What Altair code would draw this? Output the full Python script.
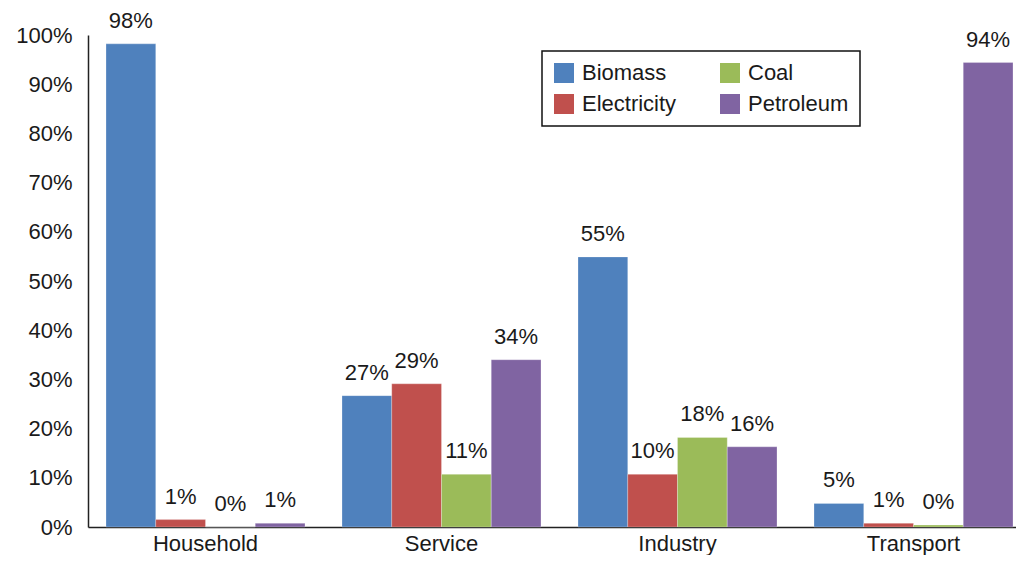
import altair as alt
import pandas as pd

sectors = ["Household", "Service", "Industry", "Transport"]
fuels = ["Biomass", "Electricity", "Coal", "Petroleum"]
colors = ["#4F81BD", "#C0504D", "#9BBB59", "#8064A2"]

biomass = [98.2, 26.7, 54.9, 4.8]
electricity = [1.5, 29.1, 10.7, 0.75]
coal = [0.0, 10.7, 18.2, 0.4]
petroleum = [0.75, 34.0, 16.3, 94.4]

biomass_lbl = ["98%", "27%", "55%", "5%"]
electricity_lbl = ["1%", "29%", "10%", "1%"]
coal_lbl = ["0%", "11%", "18%", "0%"]
petroleum_lbl = ["1%", "34%", "16%", "94%"]

y_ticks = [0, 10, 20, 30, 40, 50, 60, 70, 80, 90, 100]

rows = []
for fuel, vals, lbls in zip(
    fuels,
    [biomass, electricity, coal, petroleum],
    [biomass_lbl, electricity_lbl, coal_lbl, petroleum_lbl],
):
    for s, v, l in zip(sectors, vals, lbls):
        rows.append({"Sector": s, "Fuel": fuel, "Value": v, "Label": l})
df = pd.DataFrame(rows)

FONT = "Liberation Sans"
TXT = "#1a1a1a"

x_enc = alt.X(
    "Sector:N",
    sort=sectors,
    scale=alt.Scale(paddingInner=0.1568, paddingOuter=0.0445, align=0.857),
    axis=alt.Axis(
        title=None,
        labelAngle=0,
        ticks=False,
        labelPadding=6,
        labelFontSize=22,
        labelFont=FONT,
        labelColor=TXT,
        domainColor="#222222",
        domainWidth=1.5,
    ),
)
xoff = alt.XOffset("Fuel:N", sort=fuels, scale=alt.Scale(paddingInner=0, paddingOuter=0))
y_enc = alt.Y(
    "Value:Q",
    scale=alt.Scale(domain=[0, 100], nice=False),
    axis=alt.Axis(
        title=None,
        values=y_ticks,
        labelExpr="datum.value + '%'",
        ticks=False,
        grid=False,
        labelPadding=16,
        labelFontSize=22,
        labelFont=FONT,
        labelColor=TXT,
        domainColor="#222222",
        domainWidth=1.5,
    ),
)

bars = alt.Chart(df).mark_bar(stroke="#ffffff", strokeWidth=0.5, strokeOpacity=0.5).encode(
    x=x_enc,
    xOffset=xoff,
    y=y_enc,
    color=alt.Color(
        "Fuel:N",
        scale=alt.Scale(domain=fuels, range=colors),
        legend=alt.Legend(
            title=None,
            orient="none",
            legendX=454,
            legendY=16,
            columns=2,
            symbolType="square",
            symbolSize=400,
            symbolStrokeWidth=0,
            symbolOpacity=1,
            labelFontSize=22,
            labelFont=FONT,
            labelColor=TXT,
            labelOffset=7,
            columnPadding=42,
            rowPadding=9,
            padding=11,
            strokeColor="#111111",
            fillColor="#ffffff",
        ),
    ),
)

labels = alt.Chart(df).mark_text(
    baseline="alphabetic", align="center", dy=-16, fontSize=22, font=FONT, color=TXT
).encode(
    x=alt.X("Sector:N", sort=sectors),
    xOffset=alt.XOffset("Fuel:N", sort=fuels),
    y="Value:Q",
    text="Label:N",
)

chart = (
    alt.layer(bars, labels)
    .properties(
        width=928,
        height=492,
        autosize=alt.AutoSizeParams(type="none"),
        padding={"left": 80, "top": 27, "right": 0, "bottom": 28},
    )
    .configure_view(stroke=None)
    .configure_legend(strokeWidth=1.5)
)

chart.save("out.html", embed_options={"renderer": "svg", "actions": False})
